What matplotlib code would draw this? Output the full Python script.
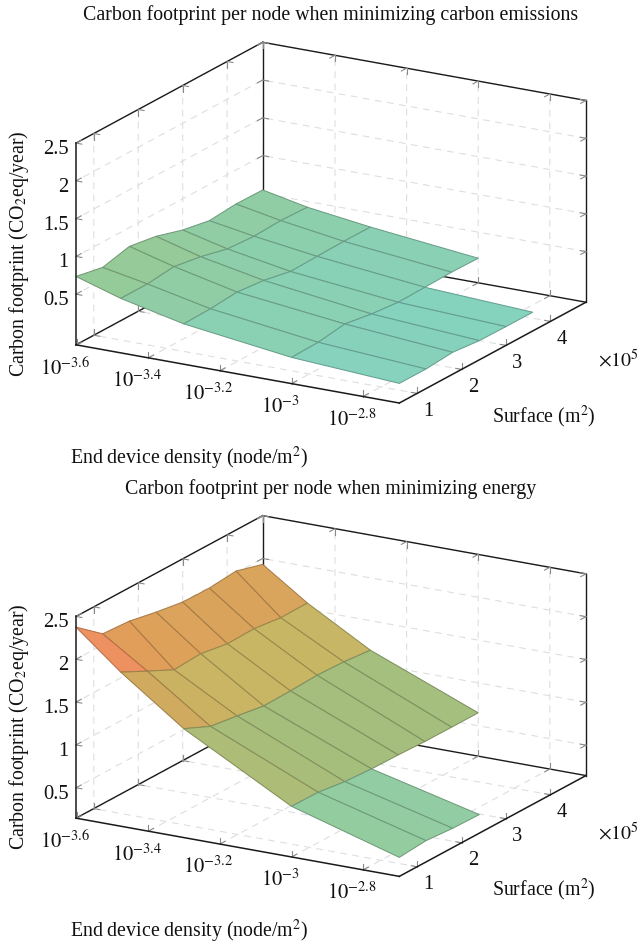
import numpy as np
import matplotlib
matplotlib.use("Agg")
import matplotlib.pyplot as plt
from matplotlib.colors import LinearSegmentedColormap
from matplotlib.transforms import Affine2D
from mpl_toolkits.mplot3d import proj3d
from mpl_toolkits.mplot3d.art3d import Poly3DCollection
from matplotlib.ticker import NullFormatter

plt.rcParams['font.family'] = ['Liberation Serif', 'DejaVu Serif']
plt.rcParams['mathtext.fontset'] = 'stix'
plt.rcParams['grid.color'] = '#dedede'
plt.rcParams['grid.linewidth'] = 0.8
plt.rcParams['grid.linestyle'] = (0, (6, 5))

# ---------- data ----------
density = [1/4000, 1/3000, 1/2000, 1/1000, 1/500]
surface = [0.6, 1.2, 1.8, 2.4, 3.0, 3.6, 4.2, 4.8]
nan = float('nan')
z_carbon = [
    [0.735, 0.664, 0.751, 0.694, 0.587, 0.520, 0.550, 0.545],
    [0.551, 0.551, 0.590, 0.530, 0.443, 0.420, 0.437, 0.423],
    [0.364, 0.373, 0.403, 0.367, 0.295, 0.304, 0.312, 0.311],
    [0.177, 0.186, 0.238, 0.180, 0.144, 0.152, 0.161, 0.155],
    [0.090, 0.090, 0.120, 0.084, 0.079, 0.079, nan, nan],
]
z_energy = [
    [2.375, 2.129, 2.109, 2.046, 1.995, 1.990, 2.021, 1.931],
    [1.944, 1.787, 1.635, 1.654, 1.602, 1.610, 1.570, 1.573],
    [1.416, 1.275, 1.228, 1.177, 1.184, 1.199, 1.187, 1.155],
    [0.736, 0.732, 0.688, 0.669, 0.664, 0.652, 0.651, 0.651],
    [0.367, 0.394, 0.370, 0.362, nan, nan, nan, nan],
]
x_ticks = [-3.6, -3.4, -3.2, -3.0, -2.8]
x_tick_labels = ['$10^{-3.6}$', '$10^{-3.4}$', '$10^{-3.2}$', '$10^{-3}$', '$10^{-2.8}$']
y_ticks = [1, 2, 3, 4]
y_tick_labels = ['1', '2', '3', '4']
z_ticks = [0.5, 1, 1.5, 2, 2.5]
z_tick_labels = ['0.5', '1', '1.5', '2', '2.5']
title_carbon = 'Carbon footprint per node when minimizing carbon emissions'
title_energy = 'Carbon footprint per node when minimizing energy'
xlabel = 'End device density (node/m$^2$)'
ylabel = 'Surface (m$^2$)'
zlabel = 'Carbon footprint (CO$_2$eq/year)'
y_scale = r'$\times 10^5$'

# ---------- style ----------
W, H = 638, 945
AX = 400
cmap = LinearSegmentedColormap.from_list('muted', [
    (0.00, '#84D3C2'), (0.04, '#85D2BE'), (0.14, '#8CCFAE'), (0.24, '#94CB9C'),
    (0.37, '#A5BE7D'), (0.56, '#C8B664'), (0.64, '#D0AA5E'), (0.76, '#DFA05A'),
    (0.824, '#EE9160'), (1.00, '#F08050')])
fig = plt.figure(figsize=(W/100, H/100), dpi=100)
fig.patch.set_facecolor('white')
XLIM = (np.log10(density[0]), np.log10(density[-1]))
YLIM = (0.6, 4.8)
GREY = '#8a8a8a'
FS_TICK, FS_LAB = 14.8, 14.3


def panel(zdata, zmin, title, cy, ytitle):
    """cy: pixel row of the centre of the box"""
    cx = 331
    frac = 0.095 / 0.185
    left = cx - frac * AX
    bottom_from_top = cy + frac * AX
    ax = fig.add_axes([left / W, 1 - bottom_from_top / H, AX / W, AX / H],
                      projection='3d', proj_type='ortho')
    ax.computed_zorder = False
    ax.patch.set_alpha(0)
    ax.view_init(elev=18.17, azim=-60)
    ax.set_box_aspect((373.3, 373.3, 212.3), zoom=552.4 / AX)
    ax.set_xlim(*XLIM)
    ax.set_ylim(*YLIM)
    ax.set_zlim(zmin, 2.5)
    ax.set_xticks(x_ticks)
    ax.set_yticks(y_ticks)
    ax.set_zticks(z_ticks)
    for a in (ax.xaxis, ax.yaxis, ax.zaxis):
        a.set_pane_color((1, 1, 1, 0))
        a.pane.set_edgecolor((1, 1, 1, 0))
        a.line.set_color((0, 0, 0, 0))
        a.set_major_formatter(NullFormatter())
        a._axinfo['tick']['inward_factor'] = 0
        a._axinfo['tick']['outward_factor'] = 0
    x0, x1 = XLIM
    y0, y1 = YLIM
    z0, z1 = zmin, 2.5
    kw_back = dict(color='#1a1a1a', lw=1.0, clip_on=False, zorder=1)
    kw_front = dict(color='#1a1a1a', lw=1.1, clip_on=False, zorder=4)
    # back box lines
    for p, q in [((x0, y0, z0), (x0, y1, z0)), ((x0, y1, z0), (x1, y1, z0)),
                 ((x0, y1, z0), (x0, y1, z1)), ((x1, y1, z0), (x1, y1, z1)),
                 ((x0, y0, z1), (x0, y1, z1)), ((x0, y1, z1), (x1, y1, z1))]:
        ax.plot(*zip(p, q), **kw_back)
    # front box lines
    for p, q in [((x0, y0, z0), (x1, y0, z0)), ((x1, y0, z0), (x1, y1, z0)),
                 ((x0, y0, z0), (x0, y0, z1))]:
        ax.plot(*zip(p, q), **kw_front)
    # inward tick marks
    tx, ty, tz = 0.018 * (x1 - x0), 0.028 * (y1 - y0), 0.03 * (z1 - z0)
    kw_t = dict(color=GREY, lw=0.8, clip_on=False, zorder=1.5)

    def leg(p, d):
        ax.plot([p[0], p[0] + d[0]], [p[1], p[1] + d[1]], [p[2], p[2] + d[2]], **kw_t)
    for x in x_ticks:
        leg((x, y0, z0), (0, ty, 0)); leg((x, y0, z0), (0, 0, tz))
        leg((x, y1, z0), (0, -ty, 0)); leg((x, y1, z0), (0, 0, tz))
        leg((x, y1, z1), (0, -ty, 0)); leg((x, y1, z1), (0, 0, -tz))
    for y in y_ticks:
        leg((x1, y, z0), (-tx, 0, 0)); leg((x1, y, z0), (0, 0, tz))
        leg((x0, y, z0), (tx, 0, 0)); leg((x0, y, z0), (0, 0, tz))
        leg((x0, y, z1), (tx, 0, 0)); leg((x0, y, z1), (0, 0, -tz))
    for z in z_ticks:
        leg((x0, y0, z), (tx, 0, 0)); leg((x0, y0, z), (0, ty, 0))
        leg((x0, y1, z), (tx, 0, 0)); leg((x0, y1, z), (0, -ty, 0))
        leg((x1, y1, z), (-tx, 0, 0)); leg((x1, y1, z), (0, -ty, 0))
    # surface facets
    lx = np.log10(density)
    Z = np.array(zdata, dtype=float)
    polys, cols, edges = [], [], []
    for i in range(len(lx) - 1):
        for j in range(len(surface) - 1):
            zz = [Z[i, j], Z[i + 1, j], Z[i + 1, j + 1], Z[i, j + 1]]
            if np.any(np.isnan(zz)):
                continue
            polys.append([(lx[i], surface[j], zz[0]), (lx[i + 1], surface[j], zz[1]),
                          (lx[i + 1], surface[j + 1], zz[2]), (lx[i], surface[j + 1], zz[3])])
            c = np.array(cmap(np.mean(zz) / 2.5))
            cols.append(c)
            edges.append((*(c[:3] * 0.76), 1.0))
    col = Poly3DCollection(polys, facecolors=cols, edgecolors=edges,
                           linewidths=0.75, zorder=2)
    ax.add_collection3d(col, autolim=False)
    col.set_clip_on(False)

    # tick labels: projected through the axes, then offset in pixels
    M = ax.get_proj()

    def lab(x, y, z, s, dx, dy, ha='center', size=FS_TICK):
        vx, vy, _ = proj3d.proj_transform(x, y, z, M)
        tr = ax.transData + Affine2D().translate(dx, -dy)
        ax.text2D(vx, vy, s, transform=tr, ha=ha, va='center', fontsize=size,
                  color='#111111', clip_on=False, zorder=5)
    for x, s in zip(x_ticks, x_tick_labels):
        lab(x, y0, z0, s, -11.5, 22.5)
    for y, s in zip(y_ticks, y_tick_labels):
        lab(x1, y, z0, s, 11.5, 17)
    for z, s in zip(z_ticks, z_tick_labels):
        lab(x0, y0, z, s, -7.5, 5.5, ha='right')

    ax.set_title(title, fontsize=FS_LAB, color='#111111', va='center', y=1.0, pad=0)
    ax.title.set_y((bottom_from_top - ytitle) / AX)
    ax.title.set_x((cx - left) / AX)
    ax.title.set_clip_on(False)
    return ax


def ftext(px, py, s, **kw):
    fig.text(px / W, 1 - py / H, s, ha='center', va='center', fontsize=FS_LAB,
             color='#111111', **kw)


panel(z_carbon, -0.17, title_carbon, 223.65, 15.5)
ftext(189, 458.5, xlabel)
ftext(544, 416.5, ylabel)
ftext(618, 361, y_scale)
ftext(19, 254, zlabel, rotation=90)

panel(z_energy, 0.145, title_energy, 697, 489.5)
ftext(189, 931.5, xlabel)
ftext(544, 889.5, ylabel)
ftext(618, 834, y_scale)
ftext(19, 727, zlabel, rotation=90)

fig.savefig('out.png', dpi=100)
